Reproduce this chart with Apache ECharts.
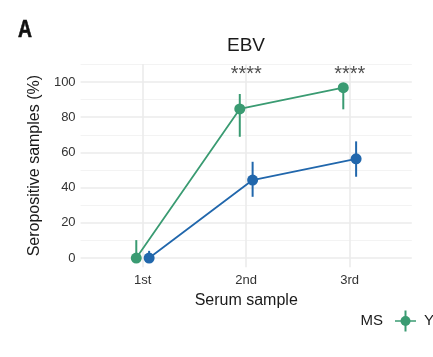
<!DOCTYPE html>
<html>
<head>
<meta charset="utf-8">
<script src="https://cdn.jsdelivr.net/npm/echarts@6/dist/echarts.min.js"></script>
<style>
html,body{margin:0;padding:0;background:#fff;}
#c{width:433px;height:357px;}
</style>
</head>
<body>
<div id="c"></div>
<script>
var categories = ['1st', '2nd', '3rd'];
var yesValues = [0, 84.7, 96.8];
var yesLow = [0, 68.9, 84.5];
var yesHigh = [10.2, 93.2, 99.3];
var noValues = [0, 44.3, 56.4];
var noLow = [0, 34.8, 46.2];
var noHigh = [4.1, 54.7, 66.3];
var sigCategories = ['2nd', '3rd'];
var sigLabels = ['****', '****'];
var sigY = 104.5;
var yMajorTicks = [0, 20, 40, 60, 80, 100];
var yMinorTicks = [10, 30, 50, 70, 90, 110];

var GREEN = '#3A9B72';
var BLUE = '#2167AC';
var FONT = 'Liberation Sans, Arial, sans-serif';
var DODGE = 0.062;

function pts(vals, off) {
  return vals.map(function (v, i) { return [i + 1 + off, v]; });
}
function bars(lo, hi, off) {
  return lo.map(function (l, i) { return [i + 1 + off, l, hi[i]]; });
}
function errSeries(data, color) {
  return {
    type: 'custom',
    xAxisIndex: 0, yAxisIndex: 0,
    data: data,
    silent: true,
    z: 3,
    renderItem: function (params, api) {
      var p1 = api.coord([api.value(0), api.value(1)]);
      var p2 = api.coord([api.value(0), api.value(2)]);
      return {
        type: 'line',
        shape: { x1: p1[0], y1: p1[1], x2: p2[0], y2: p2[1] },
        style: { stroke: color, lineWidth: 2 }
      };
    }
  };
}
function lineSeries(name, data, color) {
  return {
    name: name,
    type: 'line',
    data: data,
    symbol: 'circle',
    symbolSize: 11,
    showSymbol: true,
    itemStyle: { color: color },
    lineStyle: { color: color, width: 1.8 },
    z: 4,
    animation: false
  };
}

var chart = echarts.init(document.getElementById('c'), null, { renderer: 'canvas' });
chart.setOption({
  animation: false,
  backgroundColor: '#fff',
  title: {
    text: 'EBV', left: 246, top: 36, padding: 0, textAlign: 'center',
    textStyle: { fontFamily: FONT, fontSize: 19, fontWeight: 'normal', color: '#1a1a1a' }
  },
  graphic: [
    { type: 'text', x: 18, y: 31, scaleX: 0.84,
      style: { text: 'A', x: 0, y: 0, verticalAlign: 'middle', font: 'bold 23px "Liberation Sans", Arial, sans-serif', fill: '#111', stroke: '#111', lineWidth: 0.6 } },
    { type: 'text', x: 360.5, y: 321,
      style: { text: 'MS', font: '15px ' + FONT, fill: '#1a1a1a', verticalAlign: 'middle' } },
    { type: 'line', shape: { x1: 395, y1: 321, x2: 416, y2: 321 }, style: { stroke: GREEN, lineWidth: 1.5 } },
    { type: 'line', shape: { x1: 405.5, y1: 310.5, x2: 405.5, y2: 331.5 }, style: { stroke: GREEN, lineWidth: 2 } },
    { type: 'circle', shape: { cx: 405.5, cy: 321, r: 5 }, style: { fill: GREEN } },
    { type: 'text', x: 424, y: 321,
      style: { text: 'Y', font: '15px ' + FONT, fill: '#1a1a1a', verticalAlign: 'middle' } }
  ],
  grid: { left: 80.6, width: 331.2, top: 64, height: 203.3, containLabel: false },
  xAxis: {
    type: 'value', min: 0.4, max: 3.6,
    name: 'Serum sample', nameLocation: 'middle', nameGap: 22,
    nameTextStyle: { fontFamily: FONT, fontSize: 16, color: '#1a1a1a' },
    axisLine: { show: false },
    axisTick: { show: false, customValues: [1, 2, 3] },
    axisLabel: {
      customValues: [1, 2, 3], margin: 7,
      fontFamily: FONT, fontSize: 13, color: '#333',
      formatter: function (v) { return categories[Math.round(v) - 1]; }
    },
    splitLine: { show: true, lineStyle: { color: '#ebebeb', width: 1.6 } }
  },
  yAxis: [{
    type: 'value', min: -5.25, max: 110.25,
    name: 'Seropositive samples (%)', nameLocation: 'middle', nameGap: 33, nameRotate: 90,
    nameTextStyle: { fontFamily: FONT, fontSize: 16, color: '#1a1a1a' },
    axisLine: { show: false },
    axisTick: { show: false, customValues: yMajorTicks },
    axisLabel: { customValues: yMajorTicks, margin: 5, fontFamily: FONT, fontSize: 13, color: '#333' },
    splitLine: { show: true, lineStyle: { color: '#ebebeb', width: 1.6 } }
  }, {
    type: 'value', min: -5.25, max: 110.25, position: 'left',
    axisLine: { show: false },
    axisTick: { show: false, customValues: yMinorTicks },
    axisLabel: { show: false },
    splitLine: { show: true, lineStyle: { color: '#f2f2f2', width: 0.9 } }
  }],
  series: [
    errSeries(bars(noLow, noHigh, DODGE), BLUE),
    lineSeries('N', pts(noValues, DODGE), BLUE),
    errSeries(bars(yesLow, yesHigh, -DODGE), GREEN),
    lineSeries('Y', pts(yesValues, -DODGE), GREEN),
    {
      type: 'scatter',
      symbolSize: 0,
      silent: true,
      data: sigCategories.map(function (c, i) { return { value: [categories.indexOf(c) + 1, sigY] }; }),
      label: {
        show: true, position: 'inside',
        formatter: function (p) { return sigLabels[p.dataIndex]; },
        fontFamily: FONT, fontSize: 20, color: '#222'
      },
      z: 5
    }
  ]
});
</script>
</body>
</html>
